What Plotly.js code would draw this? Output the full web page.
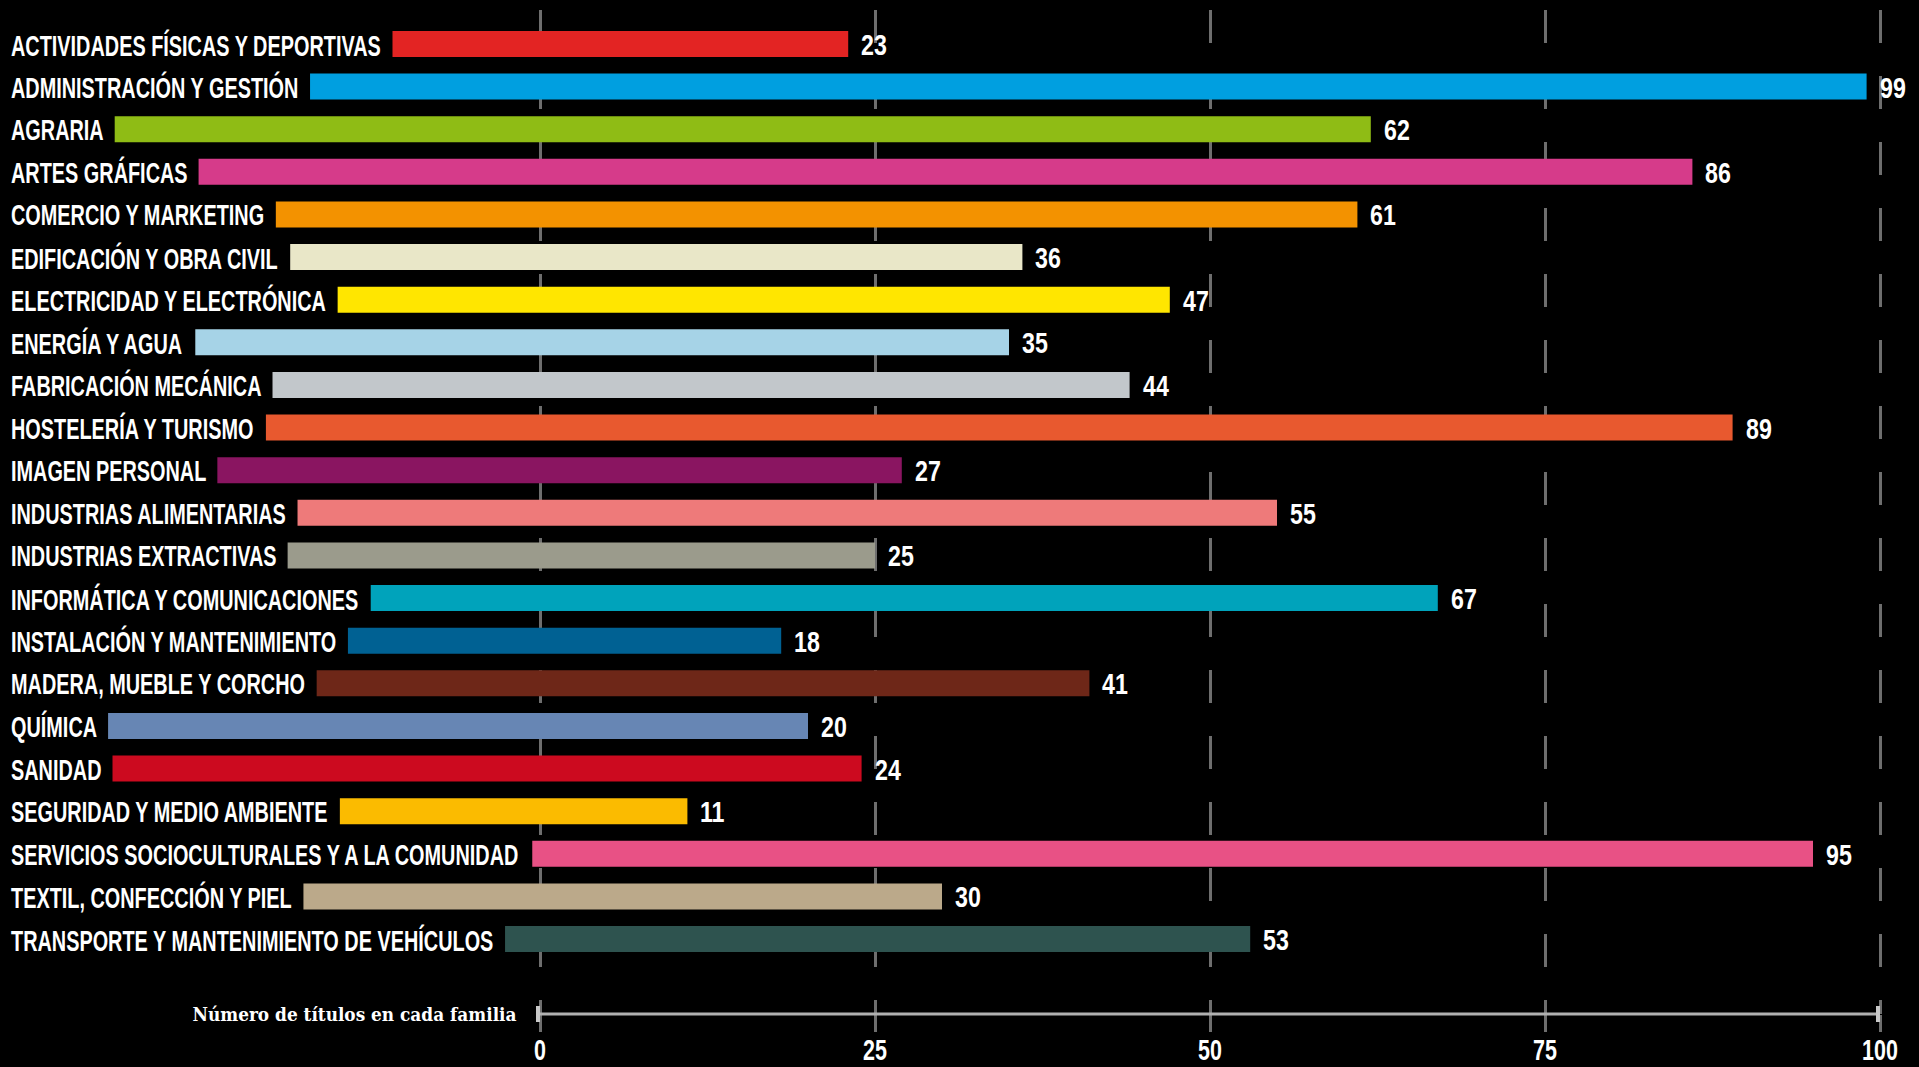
<!DOCTYPE html>
<html>
<head>
<meta charset="utf-8">
<script src="https://cdn.plot.ly/plotly-3.0.1.min.js"></script>
<style>
  html, body { margin: 0; padding: 0; background: #000; }
  #chart { width: 1919px; height: 1067px; }
</style>
</head>
<body>
<div id="chart"></div>
<script>
// ---------------- DATA ----------------
const categories = [
  "ACTIVIDADES FÍSICAS Y DEPORTIVAS",
  "ADMINISTRACIÓN Y GESTIÓN",
  "AGRARIA",
  "ARTES GRÁFICAS",
  "COMERCIO Y MARKETING",
  "EDIFICACIÓN Y OBRA CIVIL",
  "ELECTRICIDAD Y ELECTRÓNICA",
  "ENERGÍA Y AGUA",
  "FABRICACIÓN MECÁNICA",
  "HOSTELERÍA Y TURISMO",
  "IMAGEN PERSONAL",
  "INDUSTRIAS ALIMENTARIAS",
  "INDUSTRIAS EXTRACTIVAS",
  "INFORMÁTICA Y COMUNICACIONES",
  "INSTALACIÓN Y MANTENIMIENTO",
  "MADERA, MUEBLE Y CORCHO",
  "QUÍMICA",
  "SANIDAD",
  "SEGURIDAD Y MEDIO AMBIENTE",
  "SERVICIOS SOCIOCULTURALES Y A LA COMUNIDAD",
  "TEXTIL, CONFECCIÓN Y PIEL",
  "TRANSPORTE Y MANTENIMIENTO DE VEHÍCULOS"
];
const values = [23, 99, 62, 86, 61, 36, 47, 35, 44, 89, 27, 55, 25, 67, 18, 41, 20, 24, 11, 95, 30, 53];
const tickValues = [0, 25, 50, 75, 100];
const axisTitle = "Número de títulos en cada familia";

// ---------------- STYLE ----------------
const barColors = [
  "#e32423", "#009fe0", "#8fbc15", "#d63b8a", "#f39200", "#e9e7c8",
  "#ffe600", "#a6d3e7", "#c2c7cb", "#e8592f", "#8a1561", "#ee7a7a",
  "#9b9b8c", "#00a3bb", "#006193", "#6e2718", "#6786b4", "#cc0a1f",
  "#fbbb00", "#e85185", "#bba98a", "#2e534f"
];
const W = 1919, H = 1067;
const X0PX = 540, PXU = 13.4;           // pixel of value 0, pixels per unit
const TOP = 10, BOTTOM = 1014;          // plot area in pixels
const ROW0 = 44, ROWSTEP = 42.62;       // first bar centre, bar spacing
const LABEL_FONT = "Liberation Sans";
const LABEL_SIZE = 29, LABEL_K = 0.685, NUM_K = 0.8, TICK_K = 0.74;
const LABEL_LEFT = 9, LABEL_GAP = 11;

// measure labels to find where each bar starts (right after its label)
const cv = document.createElement("canvas").getContext("2d");
cv.font = `bold ${LABEL_SIZE}px "${LABEL_FONT}"`;
const labelW = categories.map(c => cv.measureText(c).width * LABEL_K);
const bases = labelW.map(w => (LABEL_LEFT + 2 + w + LABEL_GAP - X0PX) / PXU);

const n = categories.length;
const yTop = -(ROW0 - TOP) / ROWSTEP;
const yBot = (n - 1) + (BOTTOM - (ROW0 + (n - 1) * ROWSTEP)) / ROWSTEP;

const trace = {
  type: "bar",
  orientation: "h",
  y: categories,
  x: values.map((v, i) => v - bases[i]),
  base: bases,
  width: 0.61,
  marker: { color: barColors, line: { width: 0 } },
  hoverinfo: "none",
  textposition: "none"
};

const annotations = [];
const annK = [];
categories.forEach((c, i) => {
  annotations.push({
    xref: "paper", yref: "y", x: LABEL_LEFT / W, y: c,
    xanchor: "left", yanchor: "middle", align: "left",
    text: c, showarrow: false, yshift: -1,
    font: { family: LABEL_FONT, size: LABEL_SIZE, color: "#ffffff", weight: "bold" }
  });
  annK.push(LABEL_K);
});
values.forEach((v, i) => {
  annotations.push({
    xref: "x", yref: "y", x: v, y: categories[i],
    xanchor: "left", yanchor: "middle", align: "left",
    text: String(v), showarrow: false, xshift: 11, yshift: -1,
    font: { family: LABEL_FONT, size: LABEL_SIZE, color: "#ffffff", weight: "bold" }
  });
  annK.push(NUM_K);
});
annotations.push({
  xref: "paper", yref: "paper", x: 519 / W, y: 0,
  xanchor: "right", yanchor: "middle", align: "right",
  text: axisTitle, showarrow: false, yshift: 0,
  font: { family: "DejaVu Serif", size: 18, color: "#ffffff", weight: "bold" }
});
annK.push(-324); // negative: absolute target width

// axis baseline from first to last tick, with small end caps
const shapes = [
  { type: "line", xref: "x", yref: "paper",
    x0: tickValues[0], x1: tickValues[tickValues.length - 1], y0: 0, y1: 0,
    line: { color: "#b0b0b0", width: 3 } },
  { type: "line", xref: "x", yref: "paper", xsizemode: "pixel", ysizemode: "pixel",
    xanchor: tickValues[0], yanchor: 0, x0: -2, x1: -2, y0: -8, y1: 8,
    line: { color: "#c8c8c8", width: 4 } },
  { type: "line", xref: "x", yref: "paper", xsizemode: "pixel", ysizemode: "pixel",
    xanchor: tickValues[tickValues.length - 1], yanchor: 0, x0: -2, x1: -2, y0: -8, y1: 8,
    line: { color: "#c8c8c8", width: 4 } }
];

const layout = {
  width: W, height: H,
  margin: { l: 0, r: 0, t: TOP, b: H - BOTTOM, pad: 0 },
  paper_bgcolor: "#000000",
  plot_bgcolor: "#000000",
  showlegend: false,
  xaxis: {
    range: [-X0PX / PXU, (W - X0PX) / PXU],
    tickmode: "array",
    tickvals: tickValues,
    ticktext: tickValues.map(String),
    showgrid: true,
    gridcolor: "#6e6e6e",
    gridwidth: 3,
    griddash: "33px,33px",
    zeroline: false,
    showline: false,
    ticks: "outside",
    ticklen: 17,
    tickwidth: 3,
    tickcolor: "#6e6e6e",
    ticklabelstandoff: -7,
    tickfont: { family: LABEL_FONT, size: 29, color: "#ffffff", weight: "bold" },
    fixedrange: true
  },
  yaxis: {
    type: "category",
    categoryorder: "array",
    categoryarray: categories,
    range: [yBot, yTop],
    showgrid: false,
    zeroline: false,
    showline: false,
    showticklabels: false,
    ticks: "",
    fixedrange: true
  },
  shapes: shapes,
  annotations: annotations
};

Plotly.newPlot("chart", [trace], layout, { staticPlot: true, responsive: false, displayModeBar: false })
  .then(() => {
    document.querySelectorAll("g.annotation").forEach(g => {
      const i = +g.getAttribute("data-index");
      const t = g.querySelector("text.annotation-text");
      if (!t) return;
      const w = t.getComputedTextLength();
      const k = annK[i];
      const target = k < 0 ? -k : w * k;
      t.setAttribute("textLength", target);
      t.setAttribute("lengthAdjust", "spacingAndGlyphs");
    });
    document.querySelectorAll(".xtick text").forEach(t => {
      const w = t.getComputedTextLength();
      t.setAttribute("textLength", w * TICK_K);
      t.setAttribute("lengthAdjust", "spacingAndGlyphs");
    });
  });
</script>
</body>
</html>
